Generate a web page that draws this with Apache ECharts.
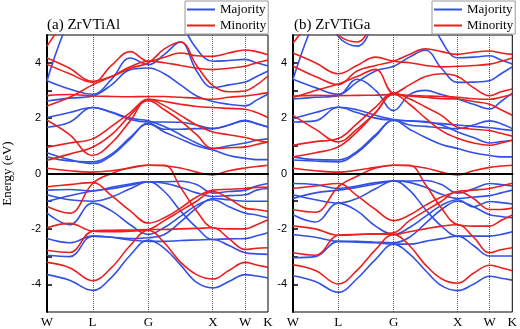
<!DOCTYPE html>
<html>
<head>
<meta charset="utf-8">
<script src="https://cdn.jsdelivr.net/npm/echarts@6/dist/echarts.min.js"></script>
<style>
  html, body { margin: 0; padding: 0; background: #fff; }
  #bands { width: 520px; height: 329px; }
</style>
</head>
<body>
<div id="bands"></div>
<script>
// sampled k points along W-L-G-X-W-K (2pi/a units)
const kPts = [0, 0.35, 0.707, 1.0, 1.29, 1.573, 1.82, 2.07, 2.32, 2.573, 2.82, 3.073, 3.25, 3.427]
const symPts = [0, 0.707, 1.573, 2.573, 3.073, 3.427]
const symLabels = ['W', 'L', 'G', 'X', 'W', 'K']
const eTicks = [-4, -2, 0, 2, 4]
const eMinor = [-3, -1, 1, 3]
const titles = ['(a) ZrVTiAl', '(b) ZrVTiGa']

// (a) ZrVTiAl, spin up
const majorityA = [
  [-0.6, -0.58, -0.63, -0.5, -0.38, -0.3, -0.3, -0.28, -0.4, -0.71, -0.65, -0.6, -0.45, -0.36],
  [-0.77, -0.95, -1.0, -0.85, -0.55, -0.3, -0.65, -1.35, -1.95, -2.38, -2.36, -2.35, -2.25, -2.14],
  [-1.0, -0.8, -0.63, -0.55, -0.42, -0.3, -0.35, -0.5, -0.7, -0.83, -0.8, -0.77, -0.6, -0.54],
  [-1.43, -1.85, -1.07, -1.35, -1.85, -2.2, -1.95, -1.55, -1.15, -0.95, -1.2, -1.43, -1.5, -1.6],
  [-2.35, -2.5, -2.26, -2.3, -2.35, -2.32, -2.2, -1.75, -1.25, -0.9, -0.95, -1.0, -1.0, -1.0],
  [-2.95, -3.0, -2.26, -2.3, -2.4, -2.45, -2.45, -2.42, -2.4, -2.38, -2.6, -2.86, -2.9, -2.92],
  [-3.65, -3.85, -4.22, -3.75, -2.95, -2.4, -2.7, -3.3, -3.93, -4.13, -3.9, -3.65, -3.7, -3.77],
  [0.6, 0.45, 0.42, 0.7, 1.3, 1.79, 1.5, 1.25, 1.0, 0.85, 0.65, 0.55, 0.5, 0.5],
  [0.75, 0.5, 0.36, 0.65, 1.25, 1.82, 1.6, 1.6, 1.62, 1.62, 1.75, 1.9, 1.8, 1.68],
  [1.67, 1.85, 2.38, 2.2, 1.95, 1.86, 1.86, 1.85, 1.75, 1.62, 1.75, 1.92, 1.8, 1.68],
  [2.02, 2.2, 2.38, 2.22, 2.0, 1.9, 1.7, 1.4, 1.1, 0.9, 1.0, 1.1, 1.2, 1.25],
  [2.62, 2.72, 2.8, 3.2, 3.75, 3.81, 3.6, 3.2, 2.8, 2.6, 2.5, 2.44, 2.65, 2.87],
  [3.35, 3.05, 2.86, 3.4, 4.17, 3.93, 4.3, 4.75, 3.7, 3.1, 3.2, 3.3, 3.5, 3.7],
  [3.35, 5.6, 7, 7, 7, 7, 6.5, 5.5, 4.5, 4.05, 4.08, 4.12, 4.0, 3.88]
]

// (a) ZrVTiAl, spin down
const minorityA = [
  [-0.48, -0.4, -0.33, -0.8, -1.35, -1.79, -1.6, -1.25, -0.85, -0.6, -0.57, -0.54, -0.5, -0.5],
  [-1.19, -1.43, -0.36, 0.0, 0.22, 0.3, 0.3, -0.5, -1.35, -1.96, -2.0, -2.0, -1.85, -1.67],
  [-1.96, -1.8, -2.08, -2.1, -2.08, -2.02, -1.7, -1.35, -1.0, -0.65, -0.9, -1.25, -1.3, -1.37],
  [-2.77, -2.85, -2.08, -2.05, -2.04, -2.02, -2.02, -2.0, -1.98, -1.96, -2.35, -2.74, -2.7, -2.68],
  [-3.21, -3.4, -3.87, -3.4, -2.6, -2.05, -2.5, -3.2, -3.65, -3.81, -3.5, -3.21, -3.3, -3.39],
  [0.19, 0.1, 0.05, 0.1, 0.2, 0.3, 0.28, 0.2, 0.05, -0.05, 0.1, 0.2, 0.25, 0.3],
  [0.48, 0.7, 0.95, 1.4, 2.1, 2.63, 2.3, 1.9, 1.4, 0.9, 0.93, 0.96, 1.05, 1.14],
  [0.95, 1.1, 1.25, 1.7, 2.2, 2.68, 2.45, 2.1, 1.75, 1.5, 1.4, 1.3, 1.2, 1.13],
  [1.92, 1.4, 0.65, 1.1, 1.9, 2.68, 2.6, 2.5, 2.42, 2.38, 2.35, 2.32, 2.2, 2.02],
  [2.81, 2.85, 2.8, 2.78, 2.77, 2.78, 2.78, 2.75, 2.72, 2.68, 2.75, 2.8, 2.85, 2.92],
  [2.44, 2.75, 3.2, 3.5, 3.85, 4.05, 4.0, 3.9, 3.8, 3.75, 3.8, 3.87, 4.0, 4.1],
  [3.94, 3.6, 3.29, 3.9, 4.4, 4.05, 4.2, 4.35, 4.25, 4.23, 4.35, 4.46, 4.4, 4.29],
  [4.17, 3.8, 3.33, 3.5, 3.8, 4.0, 4.5, 4.75, 3.9, 3.17, 2.95, 2.98, 3.2, 3.52],
  [4.6, 5.8, 7, 7, 7, 7, 7, 7, 7, 7, 7, 7, 7, 7]
]

// (b) ZrVTiGa, spin up
const majorityB = [
  [-0.36, -0.4, -0.54, -0.45, -0.33, -0.27, -0.27, -0.25, -0.4, -0.71, -0.55, -0.36, -0.4, -0.45],
  [-0.77, -0.95, -1.07, -0.9, -0.55, -0.27, -0.6, -1.3, -1.9, -2.26, -2.26, -2.26, -2.2, -2.1],
  [-0.9, -0.7, -0.6, -0.5, -0.38, -0.27, -0.32, -0.5, -0.75, -0.9, -0.85, -0.8, -0.7, -0.6],
  [-1.49, -1.75, -1.07, -1.35, -1.9, -2.2, -1.95, -1.55, -1.15, -0.95, -1.2, -1.01, -1.05, -1.1],
  [-2.2, -2.3, -2.45, -2.45, -2.48, -2.5, -2.3, -1.8, -1.3, -1.0, -1.2, -1.49, -1.55, -1.6],
  [-3.04, -3.0, -2.45, -2.48, -2.5, -2.55, -2.55, -2.45, -2.35, -2.26, -2.6, -2.98, -2.98, -2.98],
  [-3.69, -3.9, -4.29, -3.8, -3.1, -2.55, -2.9, -3.5, -4.05, -4.23, -4.0, -3.71, -3.78, -3.85],
  [0.6, 0.5, 0.49, 0.8, 1.4, 1.92, 1.6, 1.3, 1.05, 0.9, 0.75, 0.65, 0.6, 0.6],
  [0.49, 0.45, 0.42, 0.75, 1.35, 1.92, 1.75, 1.7, 1.65, 1.62, 1.75, 1.9, 1.8, 1.62],
  [1.86, 1.9, 2.39, 2.2, 2.0, 1.92, 1.9, 1.88, 1.75, 1.5, 1.3, 1.1, 1.15, 1.2],
  [1.98, 2.2, 2.39, 2.3, 2.1, 1.95, 1.9, 1.85, 1.8, 1.75, 1.7, 1.65, 1.6, 1.55],
  [2.69, 2.75, 2.81, 3.4, 3.0, 2.27, 2.85, 3.0, 2.85, 2.69, 2.5, 2.33, 2.6, 2.9],
  [3.4, 3.1, 2.86, 3.3, 3.7, 3.87, 4.2, 4.45, 3.8, 3.29, 3.3, 3.35, 3.6, 3.85],
  [3.4, 5.6, 7, 7, 7, 7, 7, 6, 4.8, 4.18, 4.2, 4.25, 4.1, 3.95],
  [7, 6.5, 4.95, 4.6, 5.6, 7, 7, 7, 7, 7, 7, 7, 7, 7]
]

// (b) ZrVTiGa, spin down
const minorityB = [
  [-0.54, -0.45, -0.36, -0.8, -1.3, -1.7, -1.5, -1.15, -0.85, -0.65, -0.6, -0.54, -0.45, -0.35],
  [-1.31, -1.4, -0.48, -0.1, 0.2, 0.3, 0.3, -0.4, -1.25, -1.85, -1.9, -1.9, -1.7, -1.5],
  [-1.9, -2.0, -2.23, -2.2, -2.18, -2.14, -1.7, -1.35, -1.0, -0.65, -0.9, -1.3, -1.3, -1.25],
  [-2.86, -2.95, -2.23, -2.2, -2.18, -2.2, -2.1, -2.0, -1.9, -1.85, -2.3, -2.86, -2.75, -2.68],
  [-3.3, -3.5, -3.99, -3.5, -2.75, -2.2, -2.6, -3.3, -3.8, -3.96, -3.6, -3.31, -3.4, -3.51],
  [0.19, 0.1, 0.05, 0.12, 0.22, 0.3, 0.28, 0.2, 0.05, -0.05, 0.1, 0.22, 0.27, 0.3],
  [0.6, 0.75, 0.96, 1.5, 2.2, 2.86, 2.5, 2.0, 1.55, 1.27, 1.1, 1.02, 1.1, 1.2],
  [1.02, 1.15, 1.26, 1.8, 2.4, 2.9, 2.7, 2.4, 2.1, 1.67, 1.6, 1.55, 1.45, 1.35],
  [2.1, 1.6, 1.14, 1.6, 2.2, 2.86, 2.8, 2.75, 2.7, 2.69, 2.6, 2.5, 2.3, 2.1],
  [2.8, 2.82, 2.81, 2.82, 2.83, 2.85, 2.82, 2.8, 2.78, 2.75, 2.7, 2.68, 2.75, 2.85],
  [2.74, 3.0, 3.23, 3.5, 3.76, 2.9, 3.2, 3.5, 3.6, 3.5, 3.1, 2.81, 2.95, 3.05],
  [3.88, 3.5, 3.21, 3.7, 3.9, 4.05, 4.3, 4.5, 4.4, 4.3, 4.38, 4.42, 4.35, 4.3],
  [4.35, 4.0, 3.6, 3.9, 4.2, 4.05, 4.0, 3.9, 3.85, 3.87, 3.9, 3.95, 4.05, 4.17],
  [4.7, 5.8, 7, 7, 7, 7, 7, 7, 7, 7, 7, 7, 7, 7],
  [7, 6, 5.0, 4.75, 5.8, 7, 7, 7, 7, 7, 7, 7, 7, 7]
]

const blue = '#3350e6'
const red = '#ec1f1f'
const serif = 'Liberation Serif'

const chart = echarts.init(document.getElementById('bands'))

const bandSeries = (bands, name, color, idx) => bands.map(b => ({
  type: 'line',
  name: name,
  xAxisIndex: idx,
  yAxisIndex: idx,
  data: b.map((e, i) => [kPts[i], e]),
  smooth: 0.4,
  showSymbol: false,
  silent: true,
  clip: true,
  lineStyle: { width: 1.6, color: color },
  itemStyle: { color: color }
}))

// dotted symmetry lines + fermi level
const guideSeries = (idx) => ({
  type: 'line',
  name: 'guide' + idx,
  xAxisIndex: idx,
  yAxisIndex: idx,
  data: [],
  silent: true,
  z: 5,
  markLine: {
    silent: true,
    symbol: 'none',
    label: { show: false },
    animation: false,
    data: [
      ...symPts.slice(1, 5).map(k => ({ xAxis: k, lineStyle: { type: 'dotted', color: '#555', width: 1 } })),
      { yAxis: 0, lineStyle: { type: 'solid', color: '#000', width: 2 } }
    ]
  }
})

const gridBox = [
  { left: 46, top: 35, width: 222, height: 279 },
  { left: 293, top: 35, width: 224, height: 279 }
]

const option = {
  animation: false,
  title: titles.map((t, i) => ({
    text: t,
    left: gridBox[i].left + 1,
    top: 18,
    padding: 0,
    textStyle: { fontFamily: serif, fontSize: 15, fontWeight: 'normal', color: '#000' }
  })),
  legend: [185, 432].map(x => ({
    data: ['Majority', 'Minority'],
    left: x,
    top: 1,
    orient: 'vertical',
    icon: 'rect',
    itemWidth: 28,
    itemHeight: 2,
    itemGap: 3,
    padding: [2, 2, 2, 2],
    borderColor: '#999',
    borderWidth: 1,
    backgroundColor: '#fff',
    selectedMode: false,
    textStyle: { fontFamily: serif, fontSize: 13, color: '#000' }
  })),
  grid: gridBox.map(g => ({ ...g, show: true, borderColor: '#000', borderWidth: 1, backgroundColor: 'transparent' })),
  xAxis: [0, 1].map(i => ({
    type: 'value',
    gridIndex: i,
    min: 0,
    max: 3.427,
    axisLine: { lineStyle: { color: '#000', width: 2 } },
    axisTick: { show: false },
    splitLine: { show: false },
    axisLabel: {
      customValues: symPts,
      margin: 4,
      fontFamily: serif,
      fontSize: 13,
      color: '#000',
      formatter: v => symLabels[symPts.findIndex(s => Math.abs(s - v) < 1e-6)]
    }
  })),
  yAxis: [0, 1].map(i => ({
    type: 'value',
    gridIndex: i,
    min: -5,
    max: 5,
    name: i === 0 ? 'Energy (eV)' : '',
    nameLocation: 'middle',
    nameGap: 33,
    nameTextStyle: { fontFamily: serif, fontSize: 13, color: '#000' },
    axisLine: { lineStyle: { color: '#000', width: 2 } },
    axisTick: { inside: true, length: 5, customValues: eTicks.concat(eMinor), lineStyle: { color: '#000', width: 1.5 } },
    splitLine: { show: false },
    axisLabel: { customValues: eTicks, margin: 6, fontFamily: 'Liberation Sans', fontSize: 11, color: '#000' }
  })),
  series: [
    ...bandSeries(majorityA, 'Majority', blue, 0),
    ...bandSeries(minorityA, 'Minority', red, 0),
    guideSeries(0),
    ...bandSeries(majorityB, 'Majority', blue, 1),
    ...bandSeries(minorityB, 'Minority', red, 1),
    guideSeries(1)
  ]
}

chart.setOption(option)
</script>
</body>
</html>
